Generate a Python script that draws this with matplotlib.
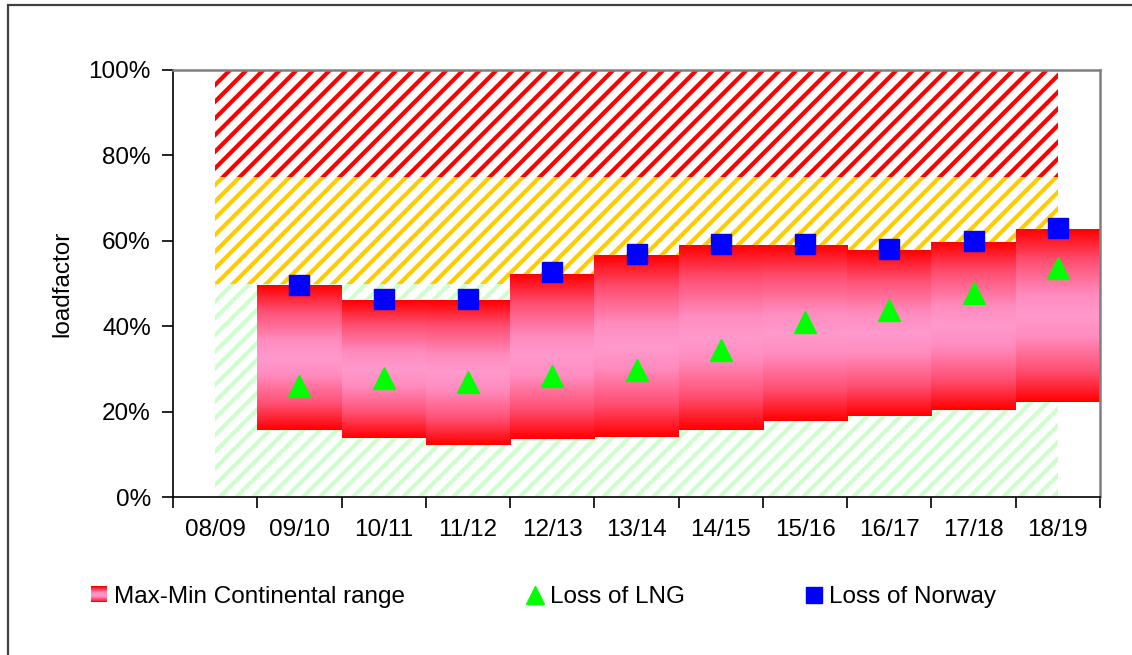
import numpy as np
import matplotlib
matplotlib.use("Agg")
import matplotlib.pyplot as plt
from matplotlib.colors import LinearSegmentedColormap
from matplotlib.patches import Rectangle
from matplotlib.lines import Line2D
from matplotlib.legend_handler import HandlerBase

plt.rcParams['font.family'] = ['Liberation Sans', 'DejaVu Sans']
plt.rcParams['hatch.linewidth'] = 3.0

seasons = ['08/09', '09/10', '10/11', '11/12', '12/13', '13/14',
           '14/15', '15/16', '16/17', '17/18', '18/19']

# continental range per season (09/10 .. 18/19), in %
range_max = [49.6, 46.1, 46.1, 52.2, 56.7, 59.0, 59.0, 57.8, 59.7, 62.8]
range_min = [15.7, 13.9, 12.2, 13.6, 14.1, 15.7, 17.8, 19.0, 20.4, 22.3]

loss_lng = [26.1, 27.9, 26.9, 28.3, 29.7, 34.4, 41.0, 43.9, 47.7, 53.7]
loss_norway = [49.7, 46.4, 46.4, 52.7, 56.9, 59.2, 59.2, 58.1, 60.0, 62.9]

# loadfactor zones: green / yellow / red
zone_limits = [0, 50, 75, 100]
zone_colors = ['#CCFFCC', '#FFCC00', '#FF0000']

red_pink = LinearSegmentedColormap.from_list(
    'redpink', [(0.0, '#FF0000'), (0.18, '#FF4F72'), (0.38, '#FF8CBF'),
                (0.5, '#FF99CC'), (0.62, '#FF8CBF'), (0.82, '#FF4F72'),
                (1.0, '#FF0000')])


class GradientHandler(HandlerBase):
    def create_artists(self, legend, orig_handle, xdescent, ydescent,
                       width, height, fontsize, trans):
        n = 20
        parts = []
        w = height * 1.0
        x0 = -xdescent + (width - w) / 2
        for i in range(n):
            c = red_pink(i / (n - 1))
            r = Rectangle((x0, -ydescent + height * i / n), w, height / n + 0.3,
                          facecolor=c, edgecolor='none', transform=trans)
            parts.append(r)
        return parts


fig = plt.figure(figsize=(11.32, 6.55), dpi=100)
ax = fig.add_axes([173 / 1132, 1 - 497 / 655, 927 / 1132, 427 / 655])

x = np.arange(len(seasons))

# hatched zones across the whole period
for lo, hi, col in zip(zone_limits[:-1], zone_limits[1:], zone_colors):
    ax.fill_between(x, lo, hi, facecolor='white', edgecolor=col,
                    hatch='//', linewidth=0, zorder=1)

# max-min range bars with vertical red/pink gradient
xb = x[1:]
heights = np.array(range_max) - np.array(range_min)
bars = ax.bar(xb, heights, bottom=range_min, width=1.0, color='none',
              edgecolor='none', zorder=2)
grad = np.linspace(0, 1, 256).reshape(-1, 1)
for b in bars:
    x0, y0 = b.get_x(), b.get_y()
    im = ax.imshow(grad, cmap=red_pink, aspect='auto', zorder=2,
                   extent=(x0, x0 + b.get_width(), y0, y0 + b.get_height()))
    im.set_clip_path(b)

ax.plot(xb, loss_lng, linestyle='none', marker='^', markersize=15.5,
        color='#00FF00', markeredgecolor='#00FF00', zorder=3)
ax.plot(xb, loss_norway, linestyle='none', marker='s', markersize=14,
        color='#0000FF', markeredgecolor='#0000FF', zorder=3)

ax.set_xlim(-0.5, len(seasons) - 0.5)
ax.set_ylim(0, 100)

ax.set_xticks(np.arange(len(seasons) + 1) - 0.5)
ax.set_xticklabels([])
ax.set_xticks(x, minor=True)
ax.set_xticklabels(seasons, minor=True)
ax.tick_params(axis='x', which='major', length=8, width=1.2, direction='out')
ax.tick_params(axis='x', which='minor', length=0, pad=16, labelsize=17.5)

ax.set_yticks(range(0, 101, 20))
ax.set_yticklabels([f'{v}%' for v in range(0, 101, 20)])
ax.tick_params(axis='y', length=8, width=1.2, pad=8, labelsize=17.5)
ax.set_ylabel('loadfactor', fontsize=17.5, labelpad=11)

for s in ['top', 'right']:
    ax.spines[s].set_color('#808080')
    ax.spines[s].set_linewidth(1.8)
for s in ['left', 'bottom']:
    ax.spines[s].set_color('black')
    ax.spines[s].set_linewidth(1.2)

handles = [Rectangle((0, 0), 1, 1),
           Line2D([], [], linestyle='none', marker='^', markersize=13, color='#00FF00'),
           Line2D([], [], linestyle='none', marker='s', markersize=11, color='#0000FF')]
labels = ['Max-Min Continental range', 'Loss of LNG', 'Loss of Norway']
fig.legend(handles, labels, loc='center left', bbox_to_anchor=(91 / 1132, 1 - 597 / 655),
           ncol=3, frameon=False, fontsize=17.5, handlelength=0.65, handleheight=0.6,
           handletextpad=0.3, columnspacing=5.0, borderpad=0, borderaxespad=0,
           handler_map={Rectangle: GradientHandler()})

# outer chart border
fig.patches.append(Rectangle((8 / 1132, -0.05), 1.2, 1.05 - 5 / 655, fill=False,
                             edgecolor='#404040', linewidth=1.6,
                             transform=fig.transFigure, figure=fig))

fig.savefig('out.png', dpi=100)
